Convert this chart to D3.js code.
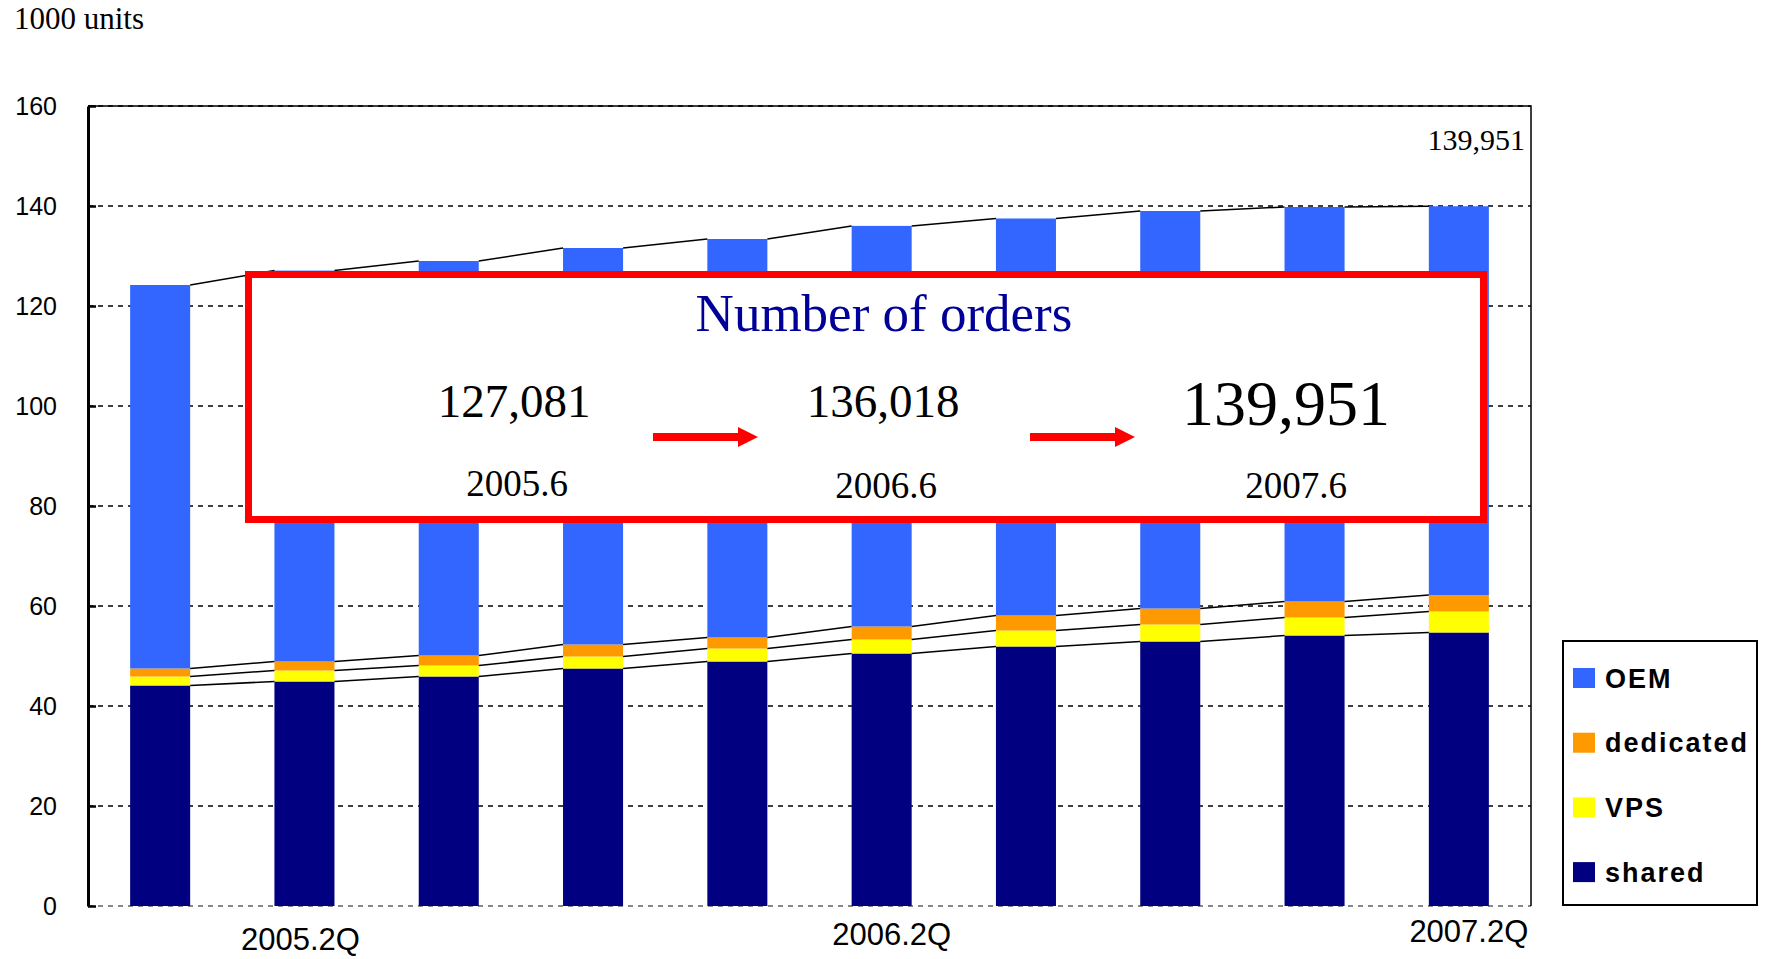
<!DOCTYPE html>
<html>
<head>
<meta charset="utf-8">
<script src="https://cdn.jsdelivr.net/npm/d3@7"></script>
<style>
  body { margin: 0; background: #fff; }
  svg { display: block; }
</style>
</head>
<body>
<script>
// quarters on the x axis, only the 2Q ones get a label
const quarters = ["2005.1Q","2005.2Q","2005.3Q","2005.4Q","2006.1Q","2006.2Q","2006.3Q","2006.4Q","2007.1Q","2007.2Q"];
const quarterLabels = ["2005.2Q","2006.2Q","2007.2Q"];

// stacked values, 1000 units (bottom to top)
const shared    = [44.1, 44.9, 45.9, 47.5, 48.9, 50.5, 51.9, 52.9, 54.1, 54.7];
const vps       = [1.8, 2.2, 2.2, 2.4, 2.6, 2.8, 3.2, 3.4, 3.6, 4.2];
const dedicated = [1.6, 1.8, 2.0, 2.4, 2.2, 2.6, 3.0, 3.2, 3.2, 3.3];
const oem       = [76.7, 78.181, 78.9, 79.3, 79.7, 80.118, 79.4, 79.5, 78.9, 77.751];

const seriesNames = ["shared", "VPS", "dedicated", "OEM"];
const seriesColors = ["#000080", "#ffff00", "#ff9900", "#3366ff"];
const yTicks = [0, 20, 40, 60, 80, 100, 120, 140, 160];

// numbers shown in the red box
const orderDates = ["2005.6", "2006.6", "2007.6"];
const orderCounts = [127081, 136018, 139951];

const width = 1767, height = 959;
const plot = {left: 88, right: 1531, top: 106, bottom: 906};

const serif = "'Liberation Serif', 'Times New Roman', serif";
const sans = "'Liberation Sans', Arial, sans-serif";

// build rows for d3.stack
const rows = quarters.map((q, i) => ({
    q: q, shared: shared[i], VPS: vps[i], dedicated: dedicated[i], OEM: oem[i]
}));
const stacked = d3.stack().keys(seriesNames)(rows);

const x = d3.scaleBand()
    .domain(quarters)
    .range([plot.left, plot.right])
    .paddingInner(0.584)
    .paddingOuter(0.292);

const y = d3.scaleLinear()
    .domain([0, 160])
    .range([plot.bottom, plot.top]);

const color = d3.scaleOrdinal().domain(seriesNames).range(seriesColors);

const svg = d3.select("body").append("svg")
    .attr("width", width)
    .attr("height", height);

// unit label
svg.append("text")
    .attr("x", 14).attr("y", 29)
    .attr("font-family", serif).attr("font-size", 31)
    .text("1000 units");

// dashed gridlines (behind bars)
svg.append("g")
    .selectAll("line")
    .data(yTicks)
    .enter().append("line")
    .attr("x1", plot.left).attr("x2", plot.right)
    .attr("y1", d => y(d)).attr("y2", d => y(d))
    .attr("stroke", d => d === 0 ? "#888" : "#000")
    .attr("stroke-width", d => d === 0 ? 2 : 1.6)
    .attr("stroke-dasharray", "5,5");

// top and right border of plot area
svg.append("path")
    .attr("d", `M${plot.left},${y(160)}H${plot.right}V${y(0)}`)
    .attr("fill", "none").attr("stroke", "#000").attr("stroke-width", 1.5);

// stacked bars
svg.append("g")
    .selectAll("g")
    .data(stacked)
    .enter().append("g")
    .attr("fill", d => color(d.key))
    .selectAll("rect")
    .data(d => d)
    .enter().append("rect")
    .attr("x", d => x(d.data.q))
    .attr("width", x.bandwidth())
    .attr("y", d => y(d[1]))
    .attr("height", d => y(d[0]) - y(d[1]));

// series lines between the bars, at the top of every segment
const seriesLines = svg.append("g")
    .attr("stroke", "#000").attr("stroke-width", 1.5);
stacked.forEach(s => {
    for (let i = 0; i < s.length - 1; i++) {
        seriesLines.append("line")
            .attr("x1", x(quarters[i]) + x.bandwidth())
            .attr("x2", x(quarters[i + 1]))
            .attr("y1", y(s[i][1]))
            .attr("y2", y(s[i + 1][1]));
    }
});

// y axis
const yAxis = svg.append("g")
    .attr("transform", `translate(${plot.left},0)`)
    .call(d3.axisLeft(y).tickValues(yTicks).tickSizeInner(-8).tickSizeOuter(0).tickPadding(31));
yAxis.select(".domain").attr("stroke", "#000").attr("stroke-width", 3);
yAxis.selectAll(".tick line").attr("stroke", "#000").attr("stroke-width", 2.5);
yAxis.selectAll("text")
    .attr("font-family", sans).attr("font-size", 25).attr("fill", "#000");

// x axis (labels sit a little off-centre in the original)
const labelShift = [-4, 10, 10];
const labelDrop = [24, 19, 16];
const xAxis = svg.append("g")
    .attr("transform", `translate(0,${plot.bottom})`)
    .call(d3.axisBottom(x).tickValues(quarterLabels).tickSize(0));
xAxis.select(".domain").remove();
xAxis.selectAll("text")
    .attr("font-family", sans).attr("font-size", 31).attr("fill", "#000")
    .attr("dy", null)
    .attr("y", (d, i) => 20 + labelDrop[i])
    .attr("dx", (d, i) => labelShift[i]);

// total of last quarter, top right
svg.append("text")
    .attr("x", plot.right - 6).attr("y", 150)
    .attr("text-anchor", "end")
    .attr("font-family", serif).attr("font-size", 30)
    .text(d3.format(",")(orderCounts[2]));

// red box with the number of orders
const box = svg.append("g");
box.append("rect")
    .attr("x", 248.5).attr("y", 274.5)
    .attr("width", 1235).attr("height", 245)
    .attr("fill", "#fff").attr("stroke", "#ff0000").attr("stroke-width", 7);

box.append("text")
    .attr("x", 884).attr("y", 331)
    .attr("text-anchor", "middle")
    .attr("font-family", serif).attr("font-size", 53).attr("fill", "#000099")
    .text("Number of orders");

const countX = [514, 883, 1286];
const countY = [417, 417, 425];
const countSize = [47, 47, 64];
const dateX = [517, 886, 1296];
const dateY = [496, 498, 498];

box.selectAll("text.count")
    .data(orderCounts)
    .enter().append("text")
    .attr("class", "count")
    .attr("x", (d, i) => countX[i]).attr("y", (d, i) => countY[i])
    .attr("text-anchor", "middle")
    .attr("font-family", serif).attr("font-size", (d, i) => countSize[i])
    .text(d => d3.format(",")(d));

box.selectAll("text.date")
    .data(orderDates)
    .enter().append("text")
    .attr("class", "date")
    .attr("x", (d, i) => dateX[i]).attr("y", (d, i) => dateY[i])
    .attr("text-anchor", "middle")
    .attr("font-family", serif).attr("font-size", 37)
    .text(d => d);

// red arrows between the numbers
function arrow(x0, yc) {
    return `M${x0},${yc - 4}H${x0 + 85}V${yc - 10}L${x0 + 105},${yc}L${x0 + 85},${yc + 10}V${yc + 4}H${x0}Z`;
}
[653, 1030].forEach(x0 => {
    box.append("path").attr("d", arrow(x0, 437)).attr("fill", "#ff0000");
});

// legend
const legend = svg.append("g");
legend.append("rect")
    .attr("x", 1563).attr("y", 641)
    .attr("width", 194).attr("height", 264)
    .attr("fill", "#fff").attr("stroke", "#000").attr("stroke-width", 2);

const legendItems = seriesNames.slice().reverse();
const legendRow = legend.selectAll("g.item")
    .data(legendItems)
    .enter().append("g")
    .attr("class", "item")
    .attr("transform", (d, i) => `translate(1573,${678 + i * 64.7})`);
legendRow.append("rect")
    .attr("x", 0).attr("y", -10)
    .attr("width", 22).attr("height", 20)
    .attr("fill", d => color(d));
legendRow.append("text")
    .attr("x", 32).attr("y", 0).attr("dy", "0.36em")
    .attr("font-family", sans).attr("font-weight", "bold")
    .attr("font-size", 27).attr("letter-spacing", 2)
    .text(d => d);
</script>
</body>
</html>
